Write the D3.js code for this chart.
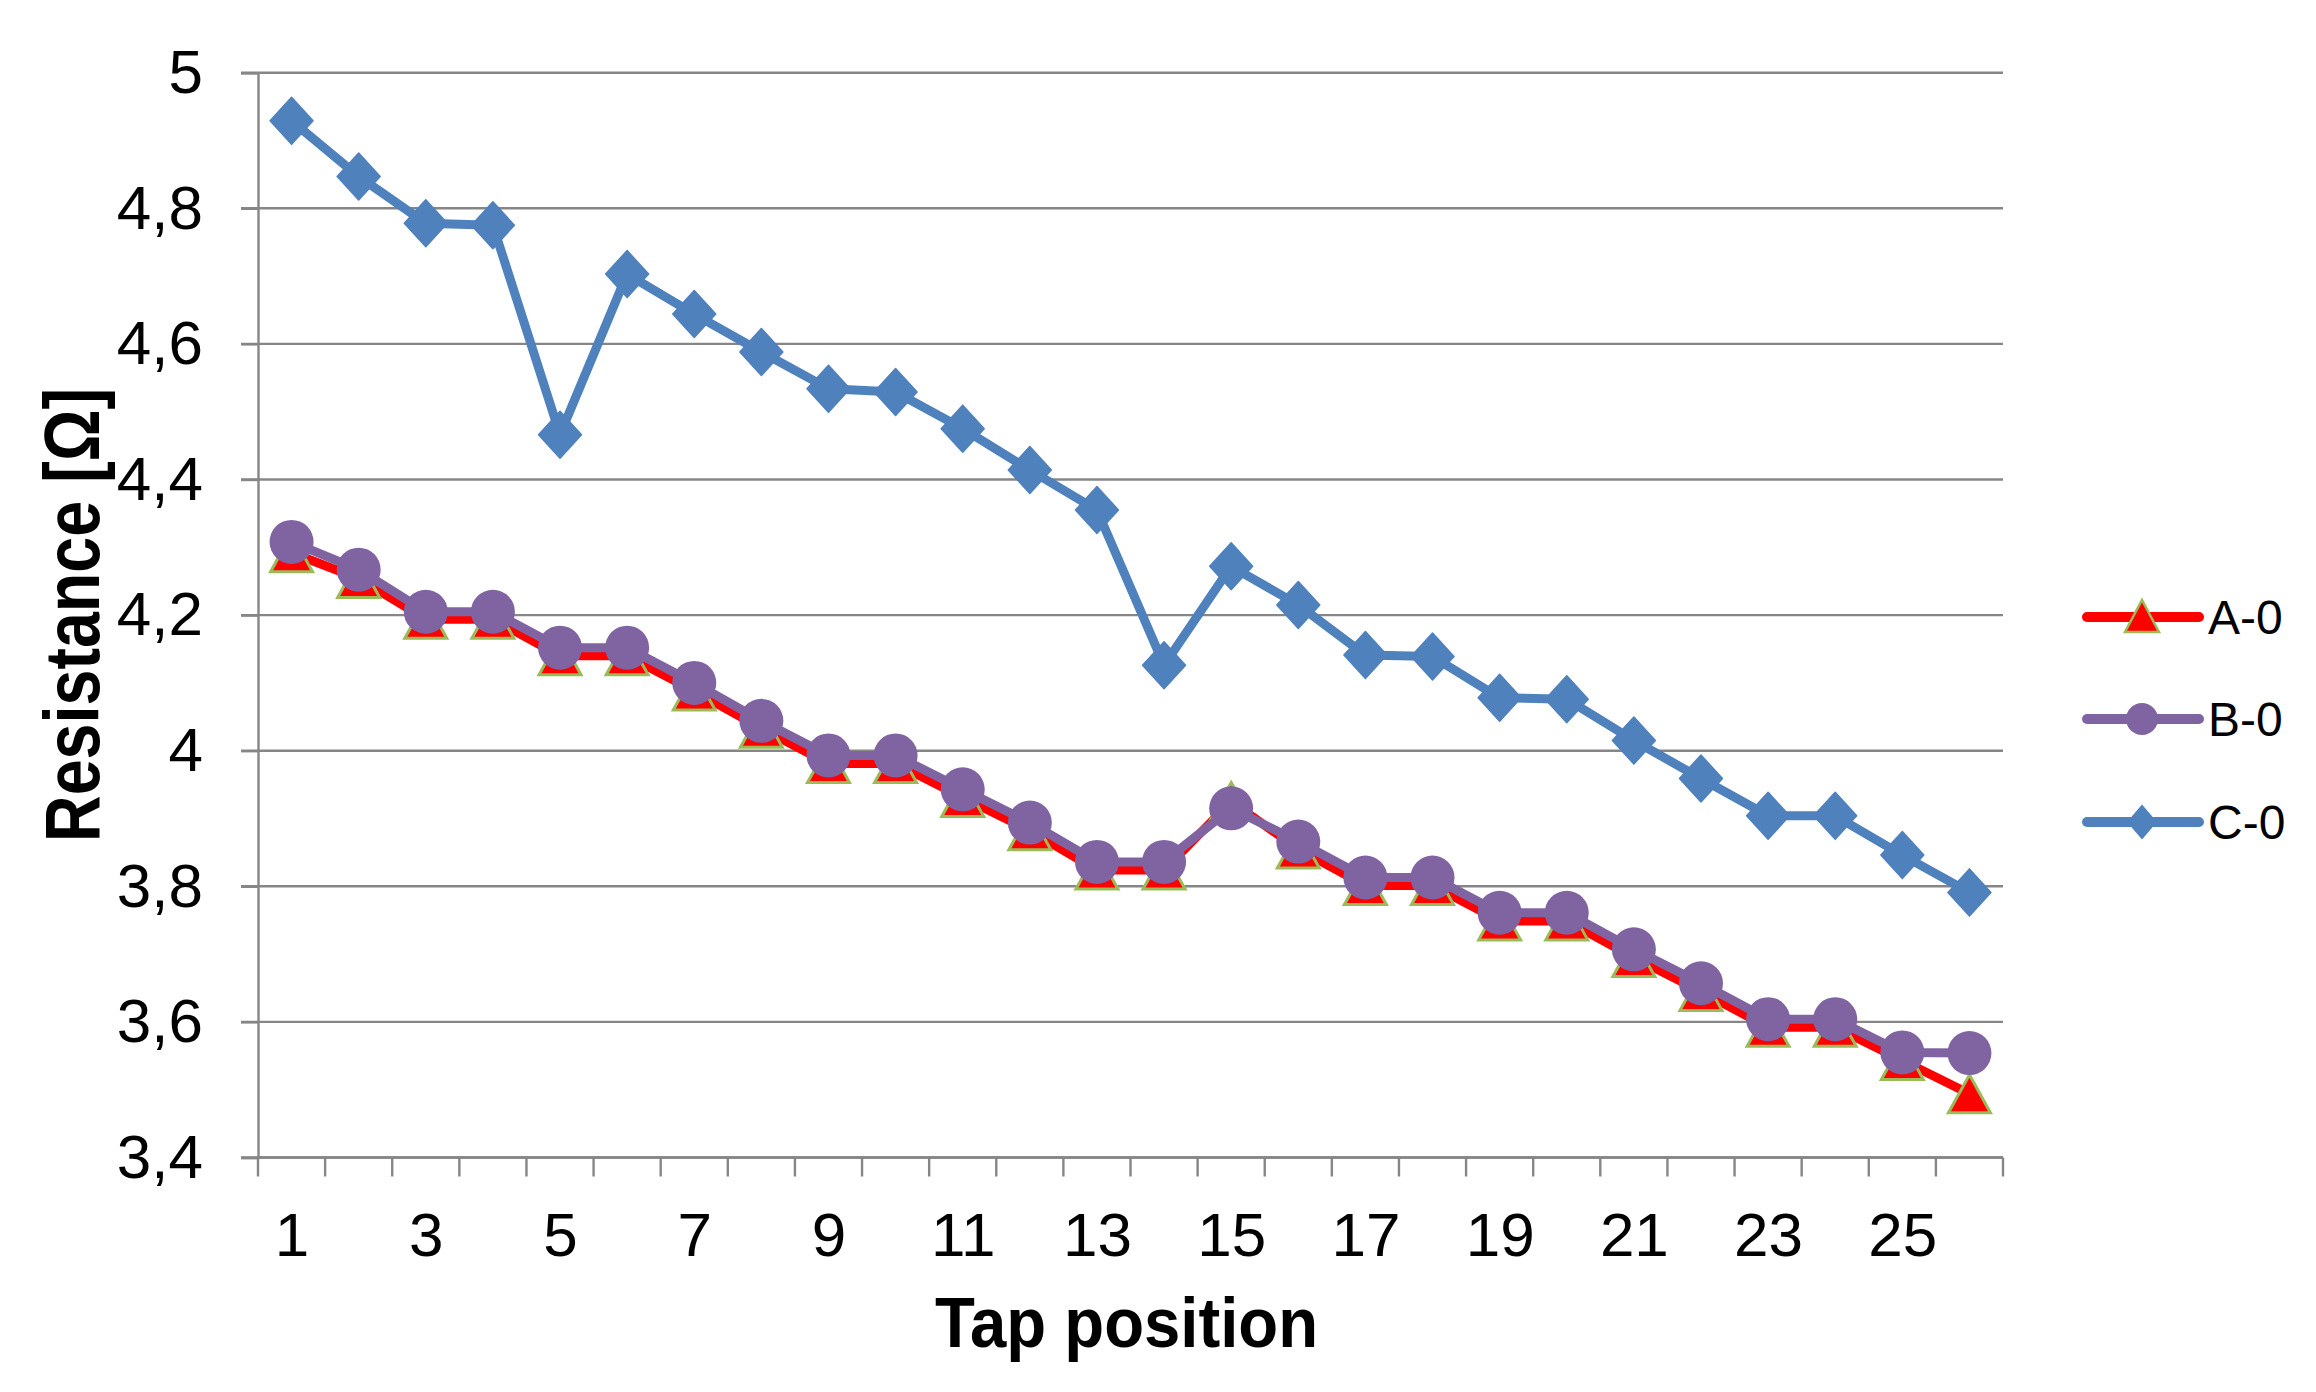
<!DOCTYPE html>
<html>
<head>
<meta charset="utf-8">
<script src="https://cdn.jsdelivr.net/npm/d3@7"></script>
<style>
  html, body { margin: 0; padding: 0; background: #ffffff; }
  svg { display: block; }
  text { font-family: "Liberation Sans", Arial, sans-serif; fill: #000; }
</style>
</head>
<body>
<svg id="chart" width="2316" height="1392"></svg>
<script>
// ---------- data ----------
const categories = [1,2,3,4,5,6,7,8,9,10,11,12,13,14,15,16,17,18,19,20,21,22,23,24,25,26];
const xTickValues = [1,3,5,7,9,11,13,15,17,19,21,23,25];
const xTickLabels = ["1","3","5","7","9","11","13","15","17","19","21","23","25"];
const yTickValues = [3.4,3.6,3.8,4.0,4.2,4.4,4.6,4.8,5.0];
const yTickLabels = ["3,4","3,6","3,8","4","4,2","4,4","4,6","4,8","5"];
const seriesNames = ["A-0","B-0","C-0"];
const valuesA = [4.292,4.254,4.194,4.194,4.140,4.140,4.088,4.033,3.981,3.981,3.931,3.882,3.824,3.824,3.925,3.855,3.801,3.801,3.749,3.749,3.695,3.645,3.592,3.592,3.543,3.494];
const valuesB = [4.308,4.267,4.205,4.205,4.152,4.152,4.100,4.044,3.993,3.993,3.943,3.894,3.836,3.836,3.915,3.866,3.813,3.813,3.761,3.761,3.707,3.657,3.604,3.604,3.555,3.554];
const valuesC = [4.929,4.847,4.778,4.775,4.466,4.703,4.644,4.588,4.534,4.529,4.475,4.414,4.355,4.126,4.272,4.215,4.141,4.139,4.078,4.076,4.015,3.959,3.904,3.904,3.846,3.791];
const xTitle = "Tap position";
const yTitle = "Resistance [Ω]";

// ---------- layout ----------
const plotLeft = 258, plotRight = 2003, plotTop = 72.7, plotBottom = 1157.5;
const gridColor = "#868686";
const colors = { A: "#FF0000", B: "#8064A2", C: "#4F81BD", triStroke: "#9BBB59" };

const svg = d3.select("#chart");
svg.append("rect").attr("width", 2316).attr("height", 1392).attr("fill", "#fff");

const x = d3.scaleBand().domain(categories).range([plotLeft, plotRight]).paddingInner(0).paddingOuter(0);
const xc = d => x(d) + x.bandwidth() / 2;
const y = d3.scaleLinear().domain([3.4, 5.0]).range([plotBottom, plotTop]);

// gridlines
svg.append("g").selectAll("line").data(yTickValues).join("line")
  .attr("x1", plotLeft - 17).attr("x2", plotRight)
  .attr("y1", d => y(d)).attr("y2", d => y(d))
  .attr("stroke", gridColor).attr("stroke-width", 2.4);

// y axis
const yAxis = d3.axisLeft(y).tickValues(yTickValues)
  .tickFormat((d, i) => yTickLabels[i]).tickSize(17).tickPadding(38);
const gy = svg.append("g").attr("transform", `translate(${plotLeft},0)`).call(yAxis);
gy.select(".domain").attr("stroke", gridColor).attr("stroke-width", 2.4);
gy.selectAll(".tick line").attr("stroke", gridColor).attr("stroke-width", 2.4);
gy.selectAll(".tick text").style("font-size", "62px").attr("fill", "#000")
  .style("font-family", '"Liberation Sans", Arial, sans-serif');

// x axis (labels through axis, ticks at category boundaries)
const xAxis = d3.axisBottom(d3.scalePoint().domain(categories).range([xc(1), xc(26)]))
  .tickValues(xTickValues).tickFormat((d, i) => xTickLabels[i]).tickSize(0).tickPadding(54);
const gx = svg.append("g").attr("transform", `translate(0,${plotBottom})`).call(xAxis);
gx.select(".domain").remove();
gx.selectAll(".tick text").style("font-size", "62px").attr("fill", "#000")
  .style("font-family", '"Liberation Sans", Arial, sans-serif');
svg.append("line").attr("x1", plotLeft).attr("x2", plotRight)
  .attr("y1", plotBottom).attr("y2", plotBottom)
  .attr("stroke", gridColor).attr("stroke-width", 2.4);
const boundaries = categories.map(c => x(c)).concat([x(categories[categories.length - 1]) + x.bandwidth()]);
svg.append("g").selectAll("line").data(boundaries).join("line")
  .attr("x1", d => d).attr("x2", d => d)
  .attr("y1", plotBottom).attr("y2", plotBottom + 19)
  .attr("stroke", gridColor).attr("stroke-width", 2.4);

// titles
svg.append("text").attr("x", 1126.5).attr("y", 1346.5).attr("text-anchor", "middle")
  .style("font-size", "70px").style("font-weight", "bold")
  .attr("textLength", 383).attr("lengthAdjust", "spacingAndGlyphs").text(xTitle);
svg.append("text").attr("transform", "translate(99,615) rotate(-90)").attr("text-anchor", "middle")
  .style("font-size", "78px").style("font-weight", "bold")
  .attr("textLength", 454).attr("lengthAdjust", "spacingAndGlyphs").text(yTitle);

// marker shapes
const triPath = (cx, cy, hw, h) => `M${cx},${cy - h / 2}L${cx + hw},${cy + h / 2}L${cx - hw},${cy + h / 2}Z`;
const diaPath = (cx, cy, hw, hh) => `M${cx},${cy - hh}L${cx + hw},${cy}L${cx},${cy + hh}L${cx - hw},${cy}Z`;

const line = d3.line().x(d => xc(d.c)).y(d => y(d.v));
const toPts = vals => categories.map((c, i) => ({ c, v: vals[i] }));

// Series A
const pA = toPts(valuesA);
svg.append("path").datum(pA).attr("d", line).attr("fill", "none")
  .attr("stroke", colors.A).attr("stroke-width", 9).attr("stroke-linejoin", "round");
svg.append("g").selectAll("path").data(pA).join("path")
  .attr("d", d => triPath(xc(d.c), y(d.v), 21, 38))
  .attr("fill", colors.A).attr("stroke", colors.triStroke).attr("stroke-width", 3);

// Series B
const pB = toPts(valuesB);
svg.append("path").datum(pB).attr("d", line).attr("fill", "none")
  .attr("stroke", colors.B).attr("stroke-width", 9).attr("stroke-linejoin", "round");
svg.append("g").selectAll("circle").data(pB).join("circle")
  .attr("cx", d => xc(d.c)).attr("cy", d => y(d.v)).attr("r", 22)
  .attr("fill", colors.B);

// Series C
const pC = toPts(valuesC);
svg.append("path").datum(pC).attr("d", line).attr("fill", "none")
  .attr("stroke", colors.C).attr("stroke-width", 9).attr("stroke-linejoin", "round");
svg.append("g").selectAll("path").data(pC).join("path")
  .attr("d", d => diaPath(xc(d.c), y(d.v), 21.5, 23.5))
  .attr("fill", colors.C).attr("stroke", colors.C).attr("stroke-width", 1.5)
  .attr("stroke-linejoin", "round");

// legend
const legY = [617, 719, 822];
const legColors = [colors.A, colors.B, colors.C];
const lg = svg.append("g");
seriesNames.forEach((name, i) => {
  const cy = legY[i];
  lg.append("line").attr("x1", 2087).attr("x2", 2199).attr("y1", cy).attr("y2", cy)
    .attr("stroke", legColors[i]).attr("stroke-width", 10).attr("stroke-linecap", "round");
  if (i === 0) {
    lg.append("path").attr("d", triPath(2142, cy - 1, 17, 32))
      .attr("fill", colors.A).attr("stroke", colors.triStroke).attr("stroke-width", 2.5);
  } else if (i === 1) {
    lg.append("circle").attr("cx", 2142).attr("cy", cy).attr("r", 16).attr("fill", colors.B);
  } else {
    lg.append("path").attr("d", diaPath(2142, cy, 15, 17.5)).attr("fill", colors.C);
  }
  lg.append("text").attr("x", 2208).attr("y", cy + 17).style("font-size", "48px").text(name);
});
</script>
</body>
</html>
